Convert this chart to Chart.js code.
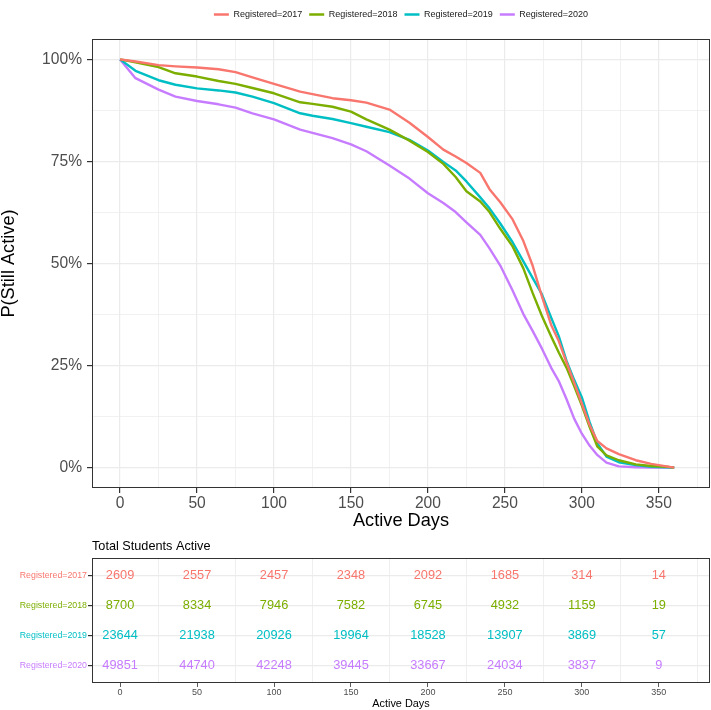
<!DOCTYPE html>
<html>
<head>
<meta charset="utf-8">
<script src="https://cdn.jsdelivr.net/npm/chart.js@4.4.1/dist/chart.umd.min.js"></script>
<style>
  html, body { margin: 0; padding: 0; background: #fff; }
  #wrap { position: relative; width: 711px; height: 710px; }
  #curve-box { position: absolute; left: 0; top: 0; }
  #table-box { position: absolute; left: 0; top: 530px; }
</style>
</head>
<body>
<div id="wrap">
  <div id="curve-box"><canvas id="curve-chart" width="711" height="535"></canvas></div>
  <div id="table-box"><canvas id="risk-chart" width="711" height="180"></canvas></div>
</div>
<script>
// ── Data ─────────────────────────────────────────────────────────────────────
const groups = ["Registered=2017", "Registered=2018", "Registered=2019", "Registered=2020"];
const groupColors = ["#F8766D", "#7CAE00", "#00BFC4", "#C77CFF"];

const days = [0, 10, 25, 36, 50, 64, 75, 86, 100, 117,
              125, 138, 150, 160, 175, 188, 200, 210, 218, 225,
              234, 240, 247, 255, 262, 268, 274, 280, 285, 290,
              295, 300, 305, 310, 316, 324, 335, 345, 355, 360];

const surv2017 = [1.000, 0.995, 0.986, 0.983, 0.980, 0.976, 0.969, 0.956, 0.940, 0.921,
                  0.915, 0.905, 0.900, 0.894, 0.877, 0.845, 0.810, 0.779, 0.762, 0.746,
                  0.722, 0.682, 0.650, 0.608, 0.555, 0.495, 0.420, 0.350, 0.310, 0.258,
                  0.208, 0.157, 0.105, 0.065, 0.047, 0.033, 0.018, 0.009, 0.003, 0.000];
const surv2018 = [1.000, 0.993, 0.981, 0.966, 0.958, 0.947, 0.940, 0.930, 0.917, 0.895,
                  0.891, 0.884, 0.872, 0.853, 0.828, 0.801, 0.773, 0.744, 0.712, 0.677,
                  0.652, 0.626, 0.585, 0.542, 0.488, 0.428, 0.372, 0.322, 0.282, 0.245,
                  0.200, 0.152, 0.100, 0.052, 0.030, 0.018, 0.008, 0.004, 0.002, 0.000];
const surv2019 = [1.000, 0.972, 0.949, 0.938, 0.929, 0.924, 0.919, 0.909, 0.893, 0.868,
                  0.862, 0.854, 0.844, 0.835, 0.822, 0.803, 0.777, 0.749, 0.728, 0.701,
                  0.662, 0.635, 0.598, 0.552, 0.505, 0.465, 0.425, 0.368, 0.322, 0.262,
                  0.215, 0.172, 0.112, 0.060, 0.027, 0.013, 0.006, 0.002, 0.001, 0.000];
const surv2020 = [1.000, 0.954, 0.926, 0.909, 0.898, 0.890, 0.882, 0.868, 0.853, 0.828,
                  0.820, 0.807, 0.792, 0.775, 0.740, 0.708, 0.672, 0.648, 0.626, 0.601,
                  0.570, 0.537, 0.495, 0.434, 0.376, 0.335, 0.292, 0.245, 0.212, 0.168,
                  0.120, 0.083, 0.054, 0.031, 0.012, 0.003, 0.001, 0.000, 0.000, 0.000];

const riskDays = [0, 50, 100, 150, 200, 250, 300, 350];
const risk2017 = [2609, 2557, 2457, 2348, 2092, 1685, 314, 14];
const risk2018 = [8700, 8334, 7946, 7582, 6745, 4932, 1159, 19];
const risk2019 = [23644, 21938, 20926, 19964, 18528, 13907, 3869, 57];
const risk2020 = [49851, 44740, 42248, 39445, 33667, 24034, 3837, 9];

const xTickValues = [0, 50, 100, 150, 200, 250, 300, 350];
const yTickValues = [0, 0.25, 0.5, 0.75, 1];
const yTickLabels = ["0%", "25%", "50%", "75%", "100%"];

const survival = [surv2017, surv2018, surv2019, surv2020];
const riskCounts = [risk2017, risk2018, risk2019, risk2020];

// ── Shared look ──────────────────────────────────────────────────────────────
Chart.defaults.font.family = "'Liberation Sans', Arial, Helvetica, sans-serif";
const TICK_GREY = "#4d4d4d";
const GRID = "#ebebeb";
const FRAME = "#333333";

const near = (v, list) => list.findIndex(t => Math.abs(t - v) < 1e-6);
const isMajorX = v => near(v, xTickValues) >= 0;
const isMajorY = v => near(v, yTickValues) >= 0;

// full box around the panel (ggplot panel.border)
const panelBorder = {
  id: "panelBorder",
  afterDraw(chart) {
    const { ctx, chartArea: a } = chart;
    ctx.save();
    ctx.strokeStyle = FRAME;
    ctx.lineWidth = 1;
    ctx.strokeRect(Math.round(a.left) + 0.5, Math.round(a.top) + 0.5,
                   Math.round(a.right - a.left) - 1, Math.round(a.bottom - a.top) - 1);
    ctx.restore();
  }
};

// ── Survival curves ──────────────────────────────────────────────────────────
new Chart(document.getElementById("curve-chart"), {
  type: "line",
  data: {
    datasets: groups.map((g, i) => ({
      label: g,
      data: days.map((d, j) => ({ x: d, y: survival[i][j] })),
      borderColor: groupColors[i],
      backgroundColor: groupColors[i],
      borderWidth: 2.4,
      borderJoinStyle: "round",
      pointRadius: 0,
      tension: 0,
    })),
  },
  options: {
    responsive: false,
    animation: false,
    events: [],
    layout: { padding: { top: 3, right: 1, left: 0, bottom: 0 } },
    plugins: {
      legend: {
        position: "top",
        fullSize: false,
        labels: {
          boxWidth: 15,
          boxHeight: 2.5,
          padding: 7,
          color: "#1a1a1a",
          font: { size: 9 },
          generateLabels: chart =>
            Chart.defaults.plugins.legend.labels.generateLabels(chart).map(it => ({ ...it, lineWidth: 0 })),
        },
      },
      // empty spacer between legend and panel
      title: { display: true, text: "", weight: 500, padding: 0, font: { size: 10, lineHeight: 1 } },
      tooltip: { enabled: false },
    },
    scales: {
      x: {
        type: "linear",
        min: -18.25,
        max: 383.25,
        afterFit: s => { s.height = 47; },
        border: { display: false },
        grid: {
          color: c => GRID,
          lineWidth: c => (isMajorX(c.tick.value) ? 1.2 : 0.7),
          tickLength: 5,
          tickColor: c => (isMajorX(c.tick.value) ? FRAME : "rgba(0,0,0,0)"),
        },
        ticks: {
          stepSize: 25,
          includeBounds: false,
          autoSkip: false,
          maxRotation: 0,
          padding: 1,
          color: TICK_GREY,
          font: { size: 15.6 },
          callback: v => (isMajorX(v) ? String(v) : ""),
        },
        title: {
          display: true,
          text: "Active Days",
          color: "#000",
          font: { size: 18.2 },
          padding: { top: 0, bottom: 3 },
        },
      },
      y: {
        type: "linear",
        min: -0.05,
        max: 1.05,
        afterFit: s => { s.width = 92; },
        border: { display: false },
        grid: {
          color: c => GRID,
          lineWidth: c => (isMajorY(c.tick.value) ? 1.2 : 0.7),
          tickLength: 5,
          tickColor: c => (isMajorY(c.tick.value) ? FRAME : "rgba(0,0,0,0)"),
        },
        ticks: {
          stepSize: 0.125,
          includeBounds: false,
          autoSkip: false,
          padding: 5,
          color: TICK_GREY,
          font: { size: 15.6 },
          callback: v => { const k = near(v, yTickValues); return k >= 0 ? yTickLabels[k] : ""; },
        },
        title: {
          display: true,
          text: "P(Still Active)",
          color: "#000",
          font: { size: 18.2, lineHeight: 1 },
          padding: { top: 0, bottom: 0 },
        },
      },
    },
  },
  plugins: [panelBorder],
});

// ── Risk table ───────────────────────────────────────────────────────────────
const riskLabels = {
  id: "riskLabels",
  afterDatasetsDraw(chart) {
    const ctx = chart.ctx;
    ctx.save();
    ctx.font = "12.8px 'Liberation Sans', Arial, sans-serif";
    ctx.textAlign = "center";
    ctx.textBaseline = "middle";
    chart.data.datasets.forEach((ds, i) => {
      ctx.fillStyle = ds.borderColor;
      chart.getDatasetMeta(i).data.forEach((pt, j) => ctx.fillText(String(ds.counts[j]), pt.x, pt.y));
    });
    ctx.restore();
  }
};

new Chart(document.getElementById("risk-chart"), {
  type: "scatter",
  data: {
    datasets: groups.map((g, i) => ({
      label: g,
      data: riskDays.map(d => ({ x: d, y: i + 1 })),
      counts: riskCounts[i],
      borderColor: groupColors[i],
      backgroundColor: groupColors[i],
      pointRadius: 0,
      showLine: false,
    })),
  },
  options: {
    responsive: false,
    animation: false,
    events: [],
    layout: { padding: { top: 0, right: 1, left: 0, bottom: 0 } },
    plugins: {
      legend: { display: false },
      tooltip: { enabled: false },
      title: {
        display: true,
        text: "Total Students Active",
        align: "start",
        fullSize: false,
        color: "#000",
        font: { size: 12.7, weight: "normal" },
        padding: { top: 8.4, bottom: 4.4 },
      },
    },
    scales: {
      x: {
        type: "linear",
        min: -18.25,
        max: 383.25,
        afterFit: s => { s.height = 27; },
        border: { display: false },
        grid: {
          color: c => (isMajorX(c.tick.value) ? "rgba(0,0,0,0)" : GRID),
          lineWidth: 0.8,
          tickLength: 4,
          tickColor: c => (isMajorX(c.tick.value) ? FRAME : "rgba(0,0,0,0)"),
        },
        ticks: {
          stepSize: 25,
          includeBounds: false,
          autoSkip: false,
          maxRotation: 0,
          padding: 0,
          color: TICK_GREY,
          font: { size: 9 },
          callback: v => (isMajorX(v) ? String(v) : ""),
        },
        title: {
          display: true,
          text: "Active Days",
          color: "#000",
          font: { size: 10.9, lineHeight: 1 },
          padding: { top: 0, bottom: 0.5 },
        },
      },
      y: {
        type: "linear",
        min: 0.4,
        max: 4.6,
        reverse: true,
        afterFit: s => { s.width = 92; },
        border: { display: false },
        grid: { color: GRID, lineWidth: 1.2, tickLength: 4, tickColor: FRAME },
        ticks: {
          stepSize: 1,
          includeBounds: false,
          autoSkip: false,
          padding: 1,
          font: { size: 8.8 },
          color: c => groupColors[Math.round(c.tick.value) - 1] || TICK_GREY,
          callback: v => groups[Math.round(v) - 1] || "",
        },
      },
    },
  },
  plugins: [panelBorder, riskLabels],
});
</script>
</body>
</html>
